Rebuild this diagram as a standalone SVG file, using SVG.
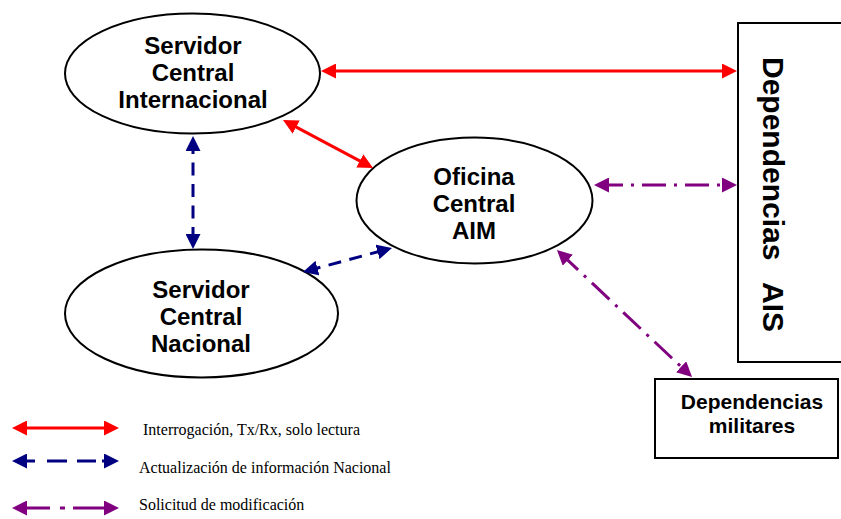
<svg xmlns="http://www.w3.org/2000/svg" width="841" height="519" viewBox="0 0 841 519">
  <style>
    .node { fill: #ffffff; stroke: #000000; stroke-width: 2; }
    .lbl { font-family: "Liberation Sans", Arial, sans-serif; font-weight: bold; font-size: 24px; fill: #000; text-anchor: middle; }
    .lbl2 { font-family: "Liberation Sans", Arial, sans-serif; font-weight: bold; font-size: 21px; fill: #000; text-anchor: middle; }
    .vert { font-family: "Liberation Sans", Arial, sans-serif; font-weight: bold; font-size: 30px; fill: #000; }
    .leg { font-family: "Liberation Serif", "Times New Roman", serif; font-size: 16px; fill: #000; }
    .red { stroke: #FF0000; stroke-width: 3; fill: none; marker-start: url(#hr); marker-end: url(#hr); }
    .blue { stroke: #000080; stroke-width: 3; fill: none; stroke-dasharray: 13 8.5; marker-start: url(#hb); marker-end: url(#hb); }
    .purple { stroke: #800080; stroke-width: 3; fill: none; stroke-dasharray: 24 8 3 8; marker-start: url(#hp); marker-end: url(#hp); }
  </style>
  <defs>
    <marker id="hr" markerUnits="userSpaceOnUse" markerWidth="15" markerHeight="15" viewBox="0 0 15 15" refX="10" refY="7.5" orient="auto-start-reverse">
      <path d="M0,0 L15,7.5 L0,15 z" fill="#FF0000"/>
    </marker>
    <marker id="hb" markerUnits="userSpaceOnUse" markerWidth="15" markerHeight="15" viewBox="0 0 15 15" refX="10" refY="7.5" orient="auto-start-reverse">
      <path d="M0,0 L15,7.5 L0,15 z" fill="#000080"/>
    </marker>
    <marker id="hp" markerUnits="userSpaceOnUse" markerWidth="15" markerHeight="15" viewBox="0 0 15 15" refX="10" refY="7.5" orient="auto-start-reverse">
      <path d="M0,0 L15,7.5 L0,15 z" fill="#800080"/>
    </marker>
  </defs>
  <rect width="841" height="519" fill="#ffffff"/>

  <g id="servidor-internacional">
    <ellipse class="node" cx="192.5" cy="73.5" rx="127.5" ry="60"/>
    <text class="lbl" x="193" y="54">Servidor</text>
    <text class="lbl" x="193" y="81">Central</text>
    <text class="lbl" x="193" y="108">Internacional</text>
  </g>

  <g id="oficina-aim">
    <ellipse class="node" cx="474.5" cy="200.5" rx="118" ry="63"/>
    <text class="lbl" x="474" y="185">Oficina</text>
    <text class="lbl" x="474" y="212">Central</text>
    <text class="lbl" x="474" y="239">AIM</text>
  </g>

  <g id="servidor-nacional">
    <ellipse class="node" cx="201.5" cy="313.5" rx="136.5" ry="64"/>
    <text class="lbl" x="201" y="298">Servidor</text>
    <text class="lbl" x="201" y="325">Central</text>
    <text class="lbl" x="201" y="352">Nacional</text>
  </g>

  <g id="dependencias-ais">
    <rect class="node" x="738" y="23" width="130" height="339"/>
    <text class="vert" transform="translate(763,57) rotate(90)">Dependencias<tspan x="225">AIS</tspan></text>
  </g>

  <g id="dependencias-militares">
    <rect class="node" x="655" y="379" width="183" height="79"/>
    <text class="lbl2" x="752" y="409">Dependencias</text>
    <text class="lbl2" x="752" y="433">militares</text>
  </g>

  <g id="connectors">
    <line class="red" x1="326" y1="71" x2="732" y2="71"/>
    <line class="red" x1="287.4" y1="122.4" x2="368.6" y2="165.6"/>
    <line class="blue" x1="193" y1="141" x2="193" y2="244"/>
    <line class="blue" x1="307.8" y1="270.7" x2="387.2" y2="249.3"/>
    <line class="purple" x1="599" y1="185" x2="732" y2="185"/>
    <line class="purple" x1="560.6" y1="253.4" x2="688.4" y2="373.6"/>
  </g>

  <g id="legend">
    <line class="red" x1="17" y1="428" x2="114" y2="428"/>
    <line class="blue" x1="17" y1="461" x2="114" y2="461" style="stroke-dasharray: 18 12 20 10 19 6 30"/>
    <line class="purple" x1="17" y1="508" x2="114" y2="508" style="stroke-dasharray: 33 10 5 8 60"/>
    <text class="leg" x="143" y="435">Interrogación, Tx/Rx, solo lectura</text>
    <text class="leg" x="139" y="473">Actualización de información Nacional</text>
    <text class="leg" x="139" y="510">Solicitud de modificación</text>
  </g>
</svg>
